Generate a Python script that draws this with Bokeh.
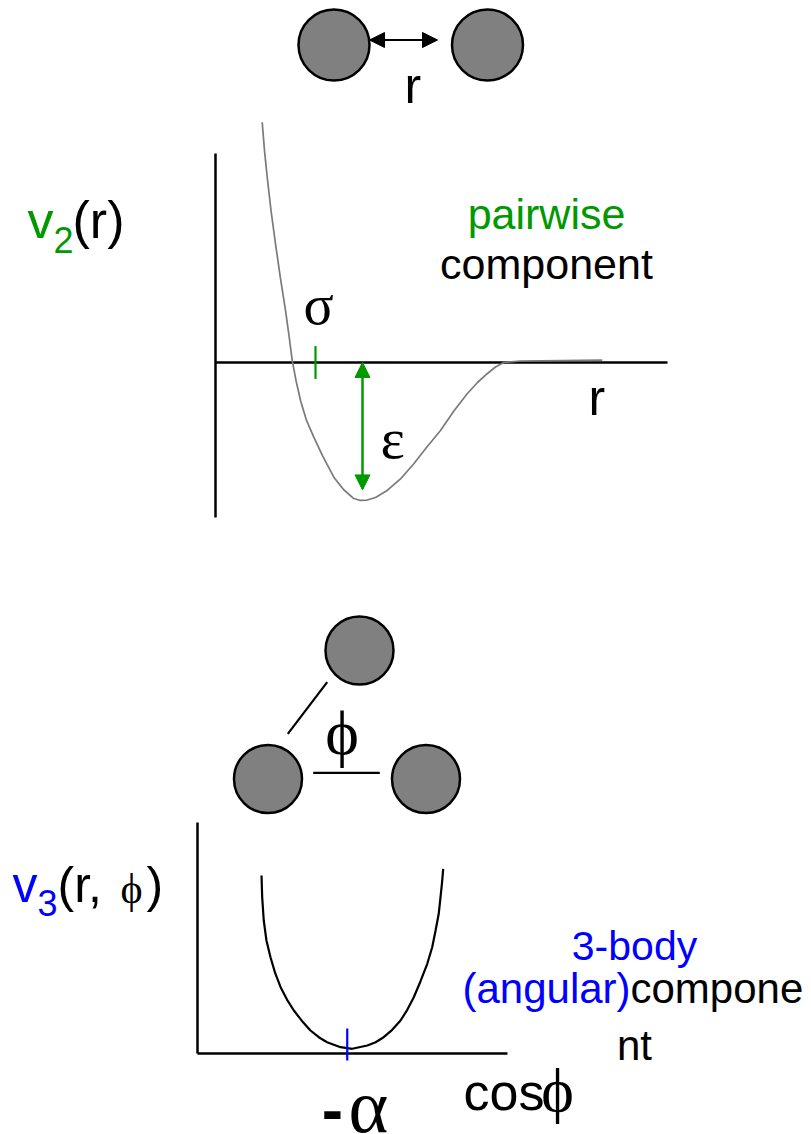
from bokeh.plotting import figure
from bokeh.models import Range1d, Arrow, NormalHead
from bokeh.core.properties import value
from bokeh.embed import file_html
from bokeh.resources import INLINE

W, H = 811, 1134
SANS = "Liberation Sans"
SERIF = "Liberation Serif"
GREEN = "#009a00"
BLUE = "#0000ff"

# ---- pair potential v2(r): r in units of sigma, v2 in units of epsilon
r_pair = [0.467, 0.49, 0.517, 0.555, 0.60, 0.65, 0.70, 0.735, 0.767, 0.805, 0.85,
          0.91, 0.983, 1.07, 1.183, 1.28, 1.383, 1.45, 1.517, 1.60, 1.717, 1.85,
          1.983, 2.11, 2.25, 2.38, 2.517, 2.62, 2.717, 2.80, 2.883, 3.05, 3.867]
v_pair = [1.754, 1.547, 1.353, 1.11, 0.866, 0.613, 0.38, 0.197, 0.015, -0.131, -0.277,
          -0.423, -0.545, -0.679, -0.837, -0.927, -0.993, -1.007, -1.004, -0.985, -0.934, -0.85,
          -0.739, -0.62, -0.496, -0.358, -0.228, -0.146, -0.082, -0.033, 0.0, 0.011, 0.018]
sigma = 1.0
r_eps = 1.47
eps_depth = -0.93

# ---- three-body term v3 against cos(phi)
cos_phi = [-0.715, -0.712, -0.705, -0.693, -0.675, -0.654, -0.630, -0.601, -0.571, -0.534,
           -0.497, -0.460, -0.423, -0.363, -0.311, -0.244, -0.207, -0.171, -0.133, -0.096,
           -0.066, -0.037, -0.007, 0.023, 0.045, 0.060, 0.074, 0.082, 0.089, 0.094]
v_3b = [1.78, 1.563, 1.33, 1.13, 0.963, 0.803, 0.663, 0.537, 0.43, 0.323,
        0.23, 0.163, 0.113, 0.063, 0.047, 0.08, 0.113, 0.163, 0.237, 0.33,
        0.437, 0.563, 0.723, 0.897, 1.063, 1.23, 1.397, 1.563, 1.713, 1.847]
minus_alpha = -1.0 / 3.0

# ---- atoms of the sketches (page coordinates)
pair_atoms_x = [333.5, 487.0]
pair_atoms_y = [44.5, 44.5]
tri_atoms_x = [359.0, 267.5, 425.5]
tri_atoms_y = [650.0, 778.5, 778.5]

p = figure(width=W, height=H, x_range=Range1d(0, W), y_range=Range1d(H, 0),
           output_backend="svg", toolbar_location=None, min_border=0,
           x_axis_location=None, y_axis_location=None,
           outline_line_color=None, background_fill_color="white",
           border_fill_color="white")
p.grid.visible = False

# chart ranges for the two sketched graphs
p.extra_x_ranges = {"pair": Range1d(-2.15, 5.96),
                    "ang": Range1d(-1.87711, 1.73375)}
p.extra_y_ranges = {"pair": Range1d(-5.635, 2.6423),
                    "ang": Range1d(-0.81, 10.53)}

# half em-box height above the baseline, used to place text by its baseline
MID = {SANS: 0.3465, SERIF: 0.3375}


def label(x, base, txt, font, size, color="black", align="left", style="normal"):
    p.text(x=[x], y=[base - MID[font] * size], text=[txt], text_font=value(font),
           text_font_size=f"{size}px", text_color=color, text_align=align,
           text_baseline="middle", text_font_style=style)


# ---------------- top: two atoms separated by r
p.circle(x=pair_atoms_x, y=pair_atoms_y, radius=35.5, fill_color="#808080",
         line_color="black", line_width=2.5)
p.add_layout(Arrow(start=NormalHead(size=15, fill_color="black", line_color="black"),
                   end=NormalHead(size=15, fill_color="black", line_color="black"),
                   x_start=369, y_start=39.5, x_end=437, y_end=39.5,
                   line_color="black", line_width=2))
label(404, 103, "r", SANS, 50)

# ---------------- pair potential graph
p.line(x=[0, 0], y=[1.526, -1.131], x_range_name="pair", y_range_name="pair",
       line_color="black", line_width=2.5)
p.line(x=[0, 4.52], y=[0, 0], x_range_name="pair", y_range_name="pair",
       line_color="black", line_width=2.5)
p.line(x=r_pair, y=v_pair, x_range_name="pair", y_range_name="pair",
       line_color="#7a7a7a", line_width=1.7)
p.line(x=[sigma, sigma], y=[0.12, -0.12], x_range_name="pair", y_range_name="pair",
       line_color=GREEN, line_width=2.2)
p.add_layout(Arrow(start=NormalHead(size=15, fill_color=GREEN, line_color=GREEN),
                   end=NormalHead(size=15, fill_color=GREEN, line_color=GREEN),
                   x_start=r_eps, y_start=eps_depth, x_end=r_eps, y_end=0.0,
                   x_range_name="pair", y_range_name="pair",
                   line_color=GREEN, line_width=2.5))

label(27, 238, "v", SANS, 52, GREEN)
label(53, 252, "2", SANS, 36, GREEN)
label(72, 238, "(r)", SANS, 52)
label(546, 228, "pairwise", SANS, 43, GREEN, "center")
label(546, 278, "component", SANS, 43, "black", "center")
label(303, 323, "σ", SERIF, 56)
label(380, 458, "ε", SERIF, 58)
label(588, 415, "r", SANS, 50)

# ---------------- middle: three atoms with bond angle phi
p.segment(x0=[326.7, 312.7], y0=[681.7, 772.3], x1=[287.3, 379.3], y1=[733.3, 772.3],
          line_color="black", line_width=2.2)
p.circle(x=tri_atoms_x, y=tri_atoms_y, radius=34, fill_color="#808080",
         line_color="black", line_width=2.5)
label(341.7, 754, "ϕ", SERIF, 64, "black", "center")

# ---------------- angular term graph
p.line(x=[-1, -1], y=[2.31, 0], x_range_name="ang", y_range_name="ang",
       line_color="black", line_width=2.5)
p.line(x=[-1, 0.38], y=[0, 0], x_range_name="ang", y_range_name="ang",
       line_color="black", line_width=2.5)
p.line(x=cos_phi, y=v_3b, x_range_name="ang", y_range_name="ang",
       line_color="black", line_width=2.2)
p.line(x=[minus_alpha, minus_alpha], y=[0.25, -0.07], x_range_name="ang",
       y_range_name="ang", line_color=BLUE, line_width=2.2)

label(12, 902, "v", SANS, 50, BLUE)
label(37, 915, "3", SANS, 36, BLUE)
label(57, 902, "(r,", SANS, 50)
label(131, 903, "ϕ", SERIF, 42, "black", "center")
label(146, 902, ")", SANS, 50)

label(634, 960, "3-body", SANS, 41, BLUE, "center")
label(462, 1003, "(angular)", SANS, 42, BLUE)
label(630, 1003, "compone", SANS, 42)
label(634, 1060, "nt", SANS, 42, "black", "center")

label(463, 1110, "cos", SANS, 52)
label(557, 1110, "ϕ", SERIF, 62, "black", "center")

label(332, 1131, "-", SANS, 64, "black", "center", "bold")
label(368, 1131, "α", SERIF, 76, "black", "center")

open("out.html", "w").write(file_html(p, INLINE))
